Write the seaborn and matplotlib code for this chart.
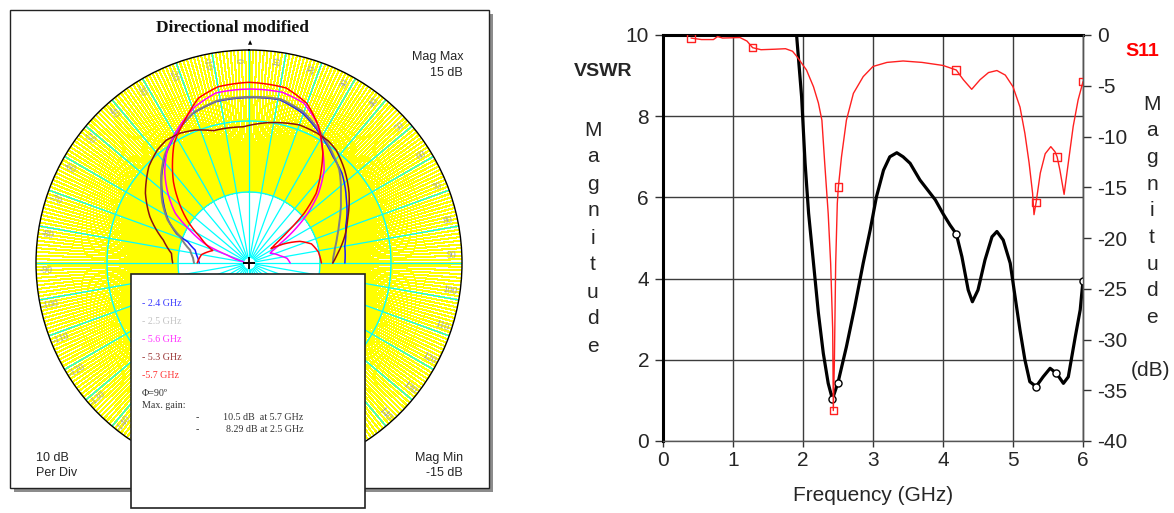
import matplotlib
matplotlib.use("Agg")
import matplotlib.pyplot as plt
from matplotlib.patches import Rectangle
import numpy as np
import pandas as pd
import seaborn as sns


# --- radiation pattern, phi = 90 deg (angle in deg, gain in dB) ---
ANG_24 = [-90, -85, -76.5, -71, -68, -62, -55, -49, -45, -38, -29, -20.5, -11.4, 0,
          10.6, 19.8, 28.5, 38.2, 46, 52, 57, 63, 69, 80, 90]
DB_24 = [-8.0, -7.8, -7.2, -5.9, -4.0, -2.1, -0.3, 1.3, 2.4, 4.15, 6.0, 7.5, 8.2, 8.3,
         8.4, 7.4, 5.8, 4.1, 3.2, 2.2, 1.35, 0.5, -0.4, -1.3, -1.5]

ANG_25 = [-90, -85, -77.6, -69, -62, -55, -49, -45, -38, -29, -20, -11, 0,
          11, 20, 28.5, 38, 44, 53, 60, 66, 73, 80, 86, 90]
DB_25 = [-7.25, -7.1, -6.5, -4.6, -2.0, -0.1, 1.4, 2.5, 4.3, 6.1, 7.6, 8.3, 8.4,
         8.5, 7.6, 6.0, 4.3, 3.3, 1.2, -0.1, -1.1, -2.0, -2.7, -3.1, -3.2]

ANG_56 = [-77, -70, -67, -61, -56, -50, -43, -36, -27, -19, -11, 0, 11, 19, 26, 32,
          39, 45, 50, 55, 58, 63, 65, 77, 83, 90]
DB_56 = [-14.2, -11.7, -8.5, -5.5, -2.5, -0.2, 2.4, 4.6, 6.6, 8.3, 9.4, 9.5, 9.5, 8.8,
         6.9, 4.4, 1.8, -1.2, -4.3, -7.8, -9.8, -11.4, -11.7, -10.5, -9.6, -9.2]

ANG_53 = [-90, -83, -75, -65, -56, -46, -39, -34, -28, -22, -15, -2.5, 7, 15, 20,
          27.6, 33, 37.6, 45.7, 55, 64.8, 74.4, 83.6, 90]
DB_53 = [-4.25, -4.0, -2.5, 0.4, 2.6, 4.6, 5.5, 5.85, 5.7, 5.2, 4.3, 4.2, 4.9, 5.4, 5.7,
         5.65, 5.5, 5.1, 3.8, 2.2, 0.4, -1.0, -2.4, -3.2]

ANG_57 = [-90, -80, -71, -62, -55, -48, -43, -37, -32, -25, -17, -10, 0, 12, 20, 27,
          34, 38, 44, 48, 51, 54, 57, 61, 67, 73, 81, 90]
DB_57 = [-7.7, -8.2, -9.6, -7.2, -4.3, -1.5, 0.6, 2.9, 4.9, 6.8, 9.3, 10.2, 10.45, 10.2,
         8.9, 6.6, 3.6, 1.5, -1.4, -4.6, -8.0, -10.3, -11.3, -9.5, -7.2, -5.8, -5.1, -4.8]

ANGLE_TICKS = list(range(-170, 190, 10))

# --- VSWR / S11 vs frequency ---
VSWR_F = [1.88, 1.91, 1.98, 2.03, 2.08, 2.15, 2.22, 2.29, 2.36, 2.42, 2.5, 2.62, 2.74,
          2.86, 2.96, 3.05, 3.15, 3.24, 3.34, 3.43, 3.53, 3.67, 3.89, 4.0, 4.1, 4.19,
          4.27, 4.36, 4.42, 4.5, 4.6, 4.7, 4.77, 4.86, 4.96, 5.03, 5.1, 5.17, 5.24,
          5.33, 5.43, 5.53, 5.62, 5.72, 5.79, 5.89, 5.96, 6.0]
VSWR = [10.6, 9.96, 8.48, 6.84, 5.61, 4.38, 3.15, 2.16, 1.42, 1.03, 1.44, 2.32, 3.31,
        4.38, 5.2, 6.02, 6.67, 7.0, 7.1, 7.0, 6.84, 6.43, 5.94, 5.6, 5.32, 5.1,
        4.54, 3.72, 3.43, 3.72, 4.46, 5.03, 5.16, 4.95, 4.38, 3.55, 2.73, 2.0, 1.46,
        1.34, 1.58, 1.79, 1.67, 1.42, 1.58, 2.57, 3.23, 3.95]
VSWR_MARK_F = [2.42, 2.5, 4.19, 5.33, 5.62, 6.0]
VSWR_MARK = [1.03, 1.44, 5.1, 1.34, 1.67, 3.95]

S11_F = [0.4, 0.55, 0.72, 0.78, 0.85, 1.1, 1.2, 1.28, 1.4, 1.6, 1.75, 1.85, 1.91, 2.05,
         2.15, 2.22, 2.27, 2.31, 2.36, 2.395, 2.424, 2.433, 2.448, 2.467, 2.49, 2.505,
         2.55, 2.62, 2.72, 2.86, 3.0, 3.2, 3.43, 3.7, 4.0, 4.19, 4.29, 4.41, 4.53, 4.65,
         4.77, 4.89, 5.0, 5.1, 5.17, 5.23, 5.28, 5.3, 5.33, 5.39, 5.46, 5.54, 5.6, 5.63,
         5.67, 5.73, 5.79, 5.86, 5.93, 6.0]
S11 = [-0.3, -0.45, -0.45, -0.15, -0.3, -0.25, -0.6, -1.25, -1.45, -1.4, -1.35, -1.6,
       -2.1, -3.45, -5.1, -6.7, -8.4, -12.6, -17.6, -22.5, -29.0, -37.0, -32.3, -22.5,
       -16.6, -15.0, -12.0, -8.4, -5.75, -4.1, -3.1, -2.7, -2.56, -2.7, -3.0, -3.45,
       -4.4, -5.35, -4.4, -3.7, -3.5, -3.95, -5.1, -7.1, -9.7, -12.6, -15.6, -17.7,
       -16.5, -13.6, -11.7, -11.0, -11.5, -12.0, -13.3, -15.7, -12.6, -9.0, -6.4, -4.6]
S11_MARK_F = [0.4, 1.28, 2.433, 2.505, 4.19, 5.33, 5.63, 6.0]
S11_MARK = [-0.3, -1.25, -37.0, -15.0, -3.45, -16.5, -12.0, -4.6]


sns.set_style("white")
plt.rcParams["font.family"] = ["Liberation Sans", "DejaVu Sans"]
plt.rcParams["axes.unicode_minus"] = False
SERIF = ["Liberation Serif", "DejaVu Serif"]

W, H = 1174, 513
fig = plt.figure(figsize=(W / 100, H / 100), dpi=100)


def box(x0, y0, x1, y1):
    return [x0 / W, 1 - y1 / H, (x1 - x0) / W, (y1 - y0) / H]


# background canvas in pixel units (frame + shadow)
bg = fig.add_axes([0, 0, 1, 1], zorder=0)
bg.set_xlim(0, W)
bg.set_ylim(H, 0)
bg.axis("off")
bg.add_patch(Rectangle((14, 14), 479, 478, facecolor="#8c8c8c", edgecolor="none"))
bg.add_patch(Rectangle((10, 10), 479, 478, facecolor="white", edgecolor="#222222", lw=1))

# ---------------- polar pattern ----------------
axp = fig.add_axes(box(36, 50, 462, 476), projection="polar", zorder=1)
axp.set_theta_zero_location("N")
axp.set_theta_direction(-1)
axp.set_xticks([])
axp.set_yticks([])
axp.grid(False)

deg1 = np.deg2rad(np.arange(0, 360, 1))
deg10 = np.deg2rad(np.arange(0, 360, 10))
axp.vlines(deg1, -5, 15, colors="#ffff00", lw=0.75, antialiased=False, zorder=1)
axp.vlines(deg10, -15, 15, colors="#00ffff", lw=0.9, zorder=1.6)
ring = np.linspace(0, 2 * np.pi, 361)
for rr in (-5, 5):
    axp.plot(ring, np.full_like(ring, rr), color="#00ffff", lw=1.0, zorder=1.8)

for a in ANGLE_TICKS:
    rot = 90 - a if a >= 0 else -90 - a
    axp.text(np.deg2rad(a - 2), 13.6, str(a), rotation=rot, rotation_mode="anchor",
             ha="center", va="center", fontsize=7, color="#a0a0a0", family=SERIF, zorder=2)

curves = [
    (ANG_24, DB_24, "#1a1aff", 1.1),
    (ANG_25, DB_25, "#808080", 1.4),
    (ANG_56, DB_56, "#ff00ff", 1.1),
    (ANG_53, DB_53, "#8b1010", 1.1),
    (ANG_57, DB_57, "#ff0000", 1.1),
]
for ang, db, col, lw in curves:
    (ln,) = axp.plot(np.deg2rad(ang), db, color=col, lw=lw, zorder=3)
    # let the polar transform bend each segment instead of drawing chords
    ln.get_path()._interpolation_steps = 12

axp.plot([0], [-15], marker="o", ms=7, color="white", zorder=4)
axp.plot([0], [-15], marker="+", ms=9, mew=1.3, color="black", zorder=5)
axp.set_xlim(0, 2 * np.pi)
axp.set_ylim(-15, 15)
axp.spines["polar"].set_color("black")
axp.spines["polar"].set_linewidth(1.0)

# ---------------- VSWR / S11 ----------------
ax = fig.add_axes(box(663, 35, 1083, 441), zorder=2)
sns.lineplot(x=VSWR_F, y=VSWR, ax=ax, color="black", lw=2.3, sort=False, estimator=None)
sns.scatterplot(x=VSWR_MARK_F, y=VSWR_MARK, ax=ax, marker="o", s=26,
                facecolor="white", edgecolor="black", linewidth=1.0, zorder=4)
ax.set_xlim(0, 6)
ax.set_ylim(0, 10)
ax.set_xticks(range(0, 7))
ax.set_yticks(range(0, 11, 2))
ax.grid(True, color="#3c3c3c", lw=1.0)
ax.set_axisbelow(True)
ax.tick_params(axis="both", labelsize=15, direction="out", color="#333333")
ax.tick_params(axis="y", left=True, length=6, width=1, pad=4)
ax.tick_params(axis="x", bottom=True, length=4, width=1, pad=3)
ax.set_xlabel("Frequency (GHz)", fontsize=15, labelpad=12)
ax.set_ylabel("")
for side, lw, col in (("top", 2.2, "black"), ("left", 2.2, "black"),
                      ("bottom", 1.0, "#555555"), ("right", 1.0, "#555555")):
    ax.spines[side].set_linewidth(lw)
    ax.spines[side].set_color(col)

ax2 = ax.twinx()
sns.lineplot(x=S11_F, y=S11, ax=ax2, color="#ff2020", lw=1.0, sort=False, estimator=None)
sns.scatterplot(x=S11_MARK_F, y=S11_MARK, ax=ax2, marker="s", s=30,
                facecolor="none", edgecolor="#ff2020", linewidth=1.0, zorder=4)
ax2.set_ylim(-40, 0)
ax2.set_yticks(range(-40, 1, 5))
ax2.set_ylabel("")
ax2.grid(False)
ax2.tick_params(axis="y", right=True, length=6, width=1, pad=4, labelsize=15,
                direction="out", color="#333333")
for side in ("top", "left", "bottom"):
    ax2.spines[side].set_visible(False)
ax2.spines["right"].set_color("#555555")
ax2.spines["right"].set_linewidth(1.0)

# ---------------- overlay: texts and legend box ----------------
ov = fig.add_axes([0, 0, 1, 1], zorder=10)
ov.set_xlim(0, W)
ov.set_ylim(H, 0)
ov.axis("off")
ov.patch.set_visible(False)

ov.text(233, 28, "Directional modified", ha="center", va="center", fontsize=12.5,
        fontweight="bold", family=SERIF, color="#111111")
ov.text(250, 43, "\u25b2", ha="center", va="center", fontsize=4, color="black",
        family=["DejaVu Sans"])
ov.text(463, 57, "Mag Max", ha="right", va="center", fontsize=9)
ov.text(463, 73, "15 dB", ha="right", va="center", fontsize=9)
ov.text(36, 458, "10 dB", ha="left", va="center", fontsize=9)
ov.text(36, 473, "Per Div", ha="left", va="center", fontsize=9)
ov.text(463, 458, "Mag Min", ha="right", va="center", fontsize=9)
ov.text(463, 473, "-15 dB", ha="right", va="center", fontsize=9)

ov.add_patch(Rectangle((131, 274), 234, 234, facecolor="white", edgecolor="#222222", lw=1.2))
legend_rows = [
    ("- 2.4 GHz", "#3a3aff", 303),
    ("- 2.5 GHz", "#c4c4c4", 321),
    ("- 5.6 GHz", "#ff33ff", 339.5),
    ("- 5.3 GHz", "#993333", 357.5),
    ("-5.7 GHz", "#ff3333", 376),
    ("\u03a6=90\u00ba", "#333333", 393),
    ("Max. gain:", "#333333", 406),
]
for txt, col, yy in legend_rows:
    ov.text(142, yy, txt, ha="left", va="center", fontsize=7.2, color=col, family=SERIF)
for txt, yy in (("10.5 dB  at 5.7 GHz", 418), ("8.29 dB at 2.5 GHz", 430)):
    ov.text(197, yy, "-", ha="center", va="center", fontsize=7.2, color="#333333", family=SERIF)
    ov.text(303.5, yy, txt, ha="right", va="center", fontsize=7.2, color="#333333", family=SERIF)

ov.text(603, 72, "VSWR", ha="center", va="center", fontsize=14, fontweight="bold")
ov.text(1142, 52, "S11", ha="center", va="center", fontsize=14, fontweight="bold",
        color="#ff0000")
for i, ch in enumerate("Magnitude"):
    ov.text(593, 130 + 27 * i, ch, ha="center", va="center", fontsize=15)
    ov.text(1152, 104 + 26.7 * i, ch, ha="center", va="center", fontsize=15)
ov.text(1151, 371, "(dB)", ha="center", va="center", fontsize=15)

fig.savefig("out.png", dpi=100, facecolor="white")
